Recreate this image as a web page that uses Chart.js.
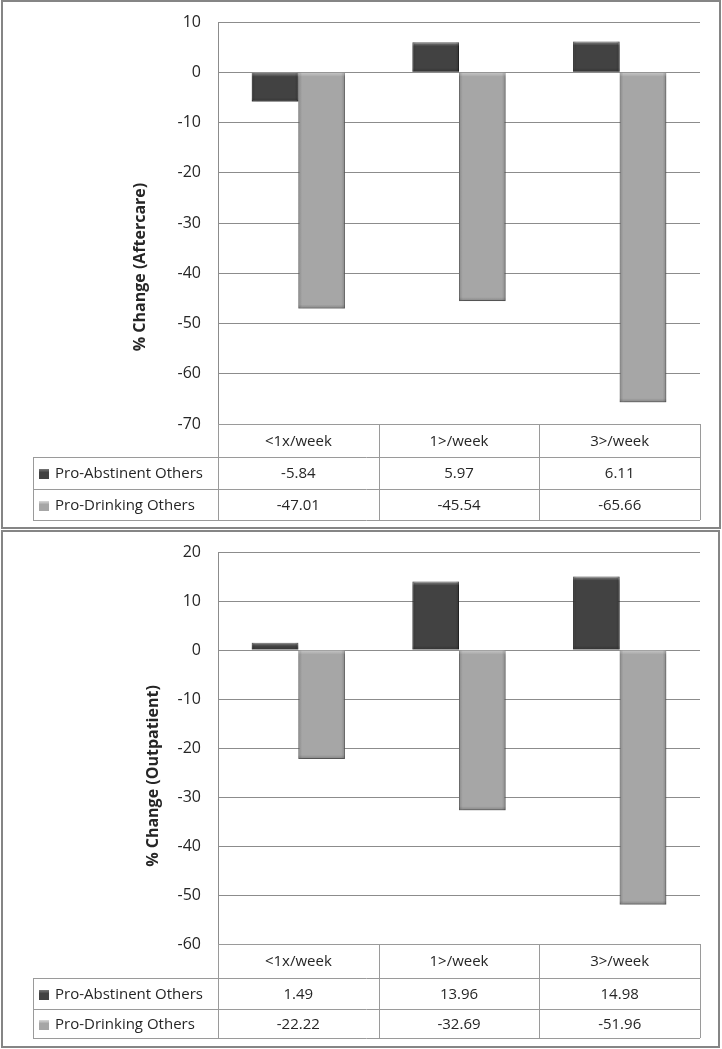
<!DOCTYPE html>
<html>
<head>
<meta charset="utf-8">
<script src="https://cdn.jsdelivr.net/npm/chart.js@4.4.1/dist/chart.umd.min.js"></script>
<style>
    html, body { margin: 0; padding: 0; background: #fff; }
    body { width: 722px; height: 1049px; position: relative; overflow: hidden; }
    .panel { position: absolute; box-sizing: border-box; border: 2px solid #858585; }
    canvas { position: absolute; left: 0; }
</style>
</head>
<body>
<div class="panel" style="left:1px; top:0; width:720px; height:529px;"></div>
<div class="panel" style="left:1px; top:530px; width:719px; height:518px;"></div>
<canvas id="aftercare" width="722" height="530" style="top:0"></canvas>
<canvas id="outpatient" width="722" height="519" style="top:530px"></canvas>

<script>
// Dane z wykresu
const categories = ['<1x/week', '1>/week', '3>/week'];
const seriesNames = ['Pro-Abstinent Others', 'Pro-Drinking Others'];

const aftercareAbstinent = [-5.84, 5.97, 6.11];
const aftercareDrinking = [-47.01, -45.54, -65.66];

const outpatientAbstinent = [1.49, 13.96, 14.98];
const outpatientDrinking = [-22.22, -32.69, -51.96];

const aftercareTicks = { min: -70, max: 10, step: 10 };
const outpatientTicks = { min: -60, max: 20, step: 10 };

const FONT = "'Open Sans', 'Noto Sans', sans-serif";
const TEXT = '#262626';
const DARK = '#424242';
const LIGHT = '#a6a6a6';

/**
 * Tabela danych pod wykresem (jak w Excelu)
 */
const dataTablePlugin = {
    id: 'dataTable',
    afterDraw(chart, args, opts) {
        const ctx = chart.ctx;
        const x = chart.scales.x;
        const area = chart.chartArea;
        const rows = opts.rows;       // wysokości wierszy
        const tableLeft = opts.left;
        const top = area.bottom;
        const y1 = top + rows[0];
        const y2 = y1 + rows[1];
        const y3 = y2 + rows[2];
        const edges = categories.map((c, i) => x.getPixelForValue(i - 0.5));
        edges.push(x.getPixelForValue(categories.length - 0.5));

        ctx.save();
        ctx.strokeStyle = '#9a9a9a';
        ctx.lineWidth = 1;
        ctx.beginPath();
        // linie poziome
        ctx.moveTo(edges[0], top + 0.5); ctx.lineTo(edges[3], top + 0.5);
        [y1, y2, y3].forEach(y => {
            ctx.moveTo(tableLeft, Math.round(y) + 0.5);
            ctx.lineTo(edges[3], Math.round(y) + 0.5);
        });
        // linie pionowe
        edges.forEach(e => {
            ctx.moveTo(Math.round(e) + 0.5, top);
            ctx.lineTo(Math.round(e) + 0.5, y3);
        });
        ctx.moveTo(tableLeft + 0.5, y1); ctx.lineTo(tableLeft + 0.5, y3);
        ctx.stroke();

        ctx.fillStyle = TEXT;
        ctx.font = '15px ' + FONT;
        ctx.textAlign = 'center';
        ctx.textBaseline = 'middle';
        categories.forEach((c, i) => {
            const cx = x.getPixelForValue(i);
            ctx.fillText(c, cx, (top + y1) / 2 + 1);
            chart.data.datasets.forEach((ds, j) => {
                const ry = j === 0 ? (y1 + y2) / 2 : (y2 + y3) / 2;
                ctx.fillText(ds.data[i].toFixed(2), cx, ry + 1);
            });
        });

        // legenda w tabeli
        ctx.textAlign = 'left';
        chart.data.datasets.forEach((ds, j) => {
            const ry = j === 0 ? (y1 + y2) / 2 : (y2 + y3) / 2;
            const kx = tableLeft + 6, ky = Math.round(ry) - 4;
            const g = ctx.createLinearGradient(0, ky, 0, ky + 10);
            g.addColorStop(0, j === 0 ? '#777' : '#d8d8d8');
            g.addColorStop(0.35, ds.backgroundColor);
            g.addColorStop(1, ds.backgroundColor);
            ctx.fillStyle = g;
            ctx.fillRect(kx, ky, 10, 10);
            ctx.fillStyle = TEXT;
            ctx.fillText(ds.label, tableLeft + 22, ry + 1);
        });
        ctx.restore();
    }
};

/**
 * Tytuł osi Y - wyśrodkowany na wykresie razem z tabelą (jak w Excelu)
 */
const axisTitlePlugin = {
    id: 'axisTitle',
    afterDraw(chart, args, opts) {
        const ctx = chart.ctx;
        ctx.save();
        ctx.translate(opts.x, opts.y);
        ctx.rotate(-Math.PI / 2);
        ctx.fillStyle = TEXT;
        ctx.font = 'bold 16px ' + FONT;
        ctx.textAlign = 'center';
        ctx.textBaseline = 'middle';
        ctx.fillText(opts.text, 0, 0);
        ctx.restore();
    }
};

/**
 * Cień i delikatny efekt wypukłości słupków
 */
const bevelPlugin = {
    id: 'bevel',
    beforeDatasetsDraw(chart) {
        const ctx = chart.ctx;
        ctx.save();
        ctx.shadowColor = 'rgba(0,0,0,0.35)';
        ctx.shadowBlur = 4;
        ctx.shadowOffsetX = 1;
        ctx.shadowOffsetY = 2;
    },
    afterDatasetsDraw(chart) {
        const ctx = chart.ctx;
        ctx.restore();
        ctx.save();
        chart.data.datasets.forEach((ds, j) => {
            chart.getDatasetMeta(j).data.forEach(bar => {
                const p = bar.getProps(['x', 'y', 'base', 'width'], true);
                const l = p.x - p.width / 2, r = p.x + p.width / 2;
                const t = Math.min(p.y, p.base), b = Math.max(p.y, p.base);
                const h = b - t;
                const e = Math.min(4, h / 2);
                // jasna krawędź górna
                const gt = ctx.createLinearGradient(0, t, 0, t + e);
                gt.addColorStop(0, 'rgba(255,255,255,0.35)');
                gt.addColorStop(1, 'rgba(255,255,255,0)');
                ctx.fillStyle = gt;
                ctx.fillRect(l, t, p.width, e);
                // ciemniejsze krawędzie boczne
                const gs = ctx.createLinearGradient(l, 0, r, 0);
                gs.addColorStop(0, 'rgba(0,0,0,0.18)');
                gs.addColorStop(0.08, 'rgba(0,0,0,0)');
                gs.addColorStop(0.92, 'rgba(0,0,0,0)');
                gs.addColorStop(1, 'rgba(0,0,0,0.18)');
                ctx.fillStyle = gs;
                ctx.fillRect(l, t, p.width, h);
                // ciemna krawędź dolna
                const gb = ctx.createLinearGradient(0, b - e, 0, b);
                gb.addColorStop(0, 'rgba(0,0,0,0)');
                gb.addColorStop(1, 'rgba(0,0,0,0.2)');
                ctx.fillStyle = gb;
                ctx.fillRect(l, b - e, p.width, e);
            });
        });
        ctx.restore();
    }
};

function createPanelChart(canvasId, title, abstinent, drinking, ticks, layout) {
    const ctx = document.getElementById(canvasId);
    return new Chart(ctx, {
        type: 'bar',
        data: {
            labels: categories,
            datasets: [{
                label: seriesNames[0],
                data: abstinent,
                backgroundColor: DARK,
                borderColor: '#333',
                borderWidth: 1
            }, {
                label: seriesNames[1],
                data: drinking,
                backgroundColor: LIGHT,
                borderColor: '#8a8a8a',
                borderWidth: 1
            }]
        },
        options: {
            responsive: false,
            animation: false,
            devicePixelRatio: 1,
            layout: { padding: { left: 0, right: 22, top: 22, bottom: layout.bottom } },
            datasets: { bar: { categoryPercentage: 0.58, barPercentage: 1 } },
            plugins: {
                legend: { display: false },
                tooltip: { enabled: false },
                dataTable: { rows: layout.rows, left: 33 },
                axisTitle: { text: title, x: layout.titleX, y: layout.titleY }
            },
            scales: {
                x: { display: false },
                y: {
                    min: ticks.min,
                    max: ticks.max,
                    afterFit: scale => { scale.width = 218; },
                    ticks: {
                        stepSize: ticks.step,
                        padding: 3,
                        color: TEXT,
                        font: { family: FONT, size: 16 }
                    },
                    grid: { color: '#8c8c8c', drawTicks: true, tickLength: 14, tickColor: 'rgba(0,0,0,0)' },
                    border: { display: true, color: '#8c8c8c' },
                    title: { display: false }
                }
            }
        },
        plugins: [dataTablePlugin, bevelPlugin, axisTitlePlugin]
    });
}

createPanelChart('aftercare', '% Change (Aftercare)', aftercareAbstinent, aftercareDrinking,
    aftercareTicks, { bottom: 106, rows: [33, 32, 31], titleX: 140, titleY: 267 });
createPanelChart('outpatient', '% Change (Outpatient)', outpatientAbstinent, outpatientDrinking,
    outpatientTicks, { bottom: 105, rows: [34, 31, 29], titleX: 153, titleY: 246 });
</script>
</body>
</html>
